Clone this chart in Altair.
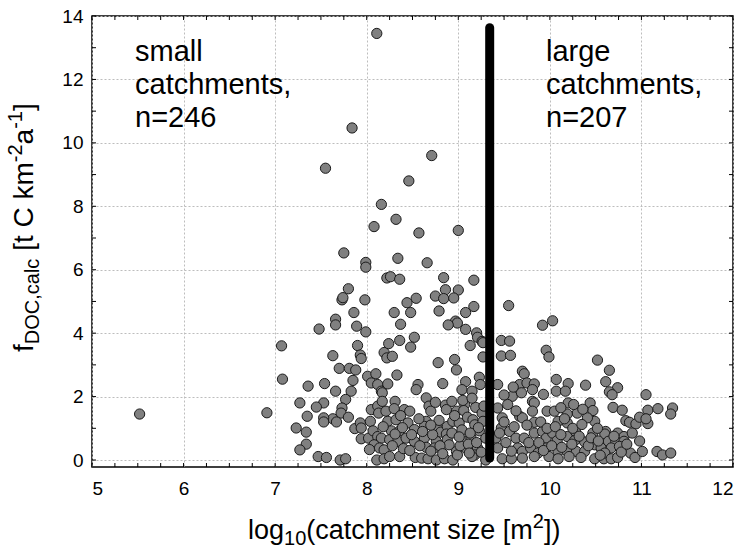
import altair as alt
import pandas as pd
import numpy as np

# ---------------- data ----------------
upper_x = [8.11, 7.84, 8.71, 7.55, 8.46, 8.16, 8.32, 8.08, 9.00, 8.57, 7.75, 8.34, 8.66, 7.99, 7.99,
           8.22, 8.26, 8.36, 8.84, 9.17, 7.80, 8.86, 9.00, 8.75, 8.84, 8.95, 8.54, 7.73, 7.74, 7.98,
           8.44, 9.17, 9.55, 7.86, 8.30, 8.48, 8.79, 9.08, 10.03, 9.92, 8.97, 8.99, 8.89, 7.66, 7.66,
           7.48, 7.89, 7.99, 8.37, 9.08, 9.20, 9.21, 8.52, 8.36, 9.47, 9.56, 9.26, 5.52, 6.91]
upper_y = [13.45, 10.47, 9.60, 9.20, 8.80, 8.06, 7.59, 7.36, 7.24, 7.16, 6.53, 6.36, 6.22, 6.23, 6.08,
           5.74, 5.78, 5.70, 5.75, 5.67, 5.40, 5.37, 5.36, 5.17, 5.09, 5.11, 5.10, 5.05, 5.12, 5.05,
           4.96, 4.84, 4.87, 4.65, 4.65, 4.65, 4.70, 4.65, 4.39, 4.25, 4.38, 4.32, 4.26, 4.44, 4.26,
           4.13, 4.22, 4.04, 4.28, 4.12, 4.01, 3.87, 3.87, 3.77, 3.77, 3.75, 3.74, 1.45, 1.49]

left_x = [7.07, 7.63, 7.90, 7.93, 7.94, 8.19, 8.22, 8.28, 8.24, 7.70, 7.81, 7.88, 7.08, 7.36, 7.54,
          7.66, 7.85, 7.83, 8.01, 8.10, 8.05, 8.12, 8.16, 8.17, 8.23, 7.77, 7.27, 7.53, 7.45, 7.35,
          7.73, 7.72, 7.80, 7.63, 7.67, 7.53, 7.53, 7.87, 7.93, 7.94, 8.04, 7.23, 7.34, 7.34, 7.27,
          7.47, 7.56, 7.71, 7.77, 7.94, 8.02, 8.07, 8.12, 8.16, 8.08, 8.14, 8.19, 8.11, 8.19, 8.05,
          8.12, 8.13, 8.17, 8.21]
left_y = [3.60, 3.29, 3.61, 3.31, 3.20, 3.39, 3.22, 3.27, 3.67, 2.89, 2.89, 2.84, 2.55, 2.33, 2.41,
          2.17, 2.51, 2.17, 2.64, 2.72, 2.43, 2.38, 2.17, 2.12, 2.40, 1.91, 1.80, 1.80, 1.67, 1.38,
          1.64, 1.48, 1.35, 1.30, 1.20, 1.33, 1.20, 0.99, 1.17, 1.01, 1.22, 1.01, 0.88, 0.50, 0.32,
          0.11, 0.08, 0.00, 0.04, 0.67, 0.69, 0.92, 0.74, 0.69, 0.48, 0.38, 0.32, 0.00, 0.04, 1.59,
          1.70, 1.48, 1.85, 1.54]

mid_x = [8.48, 9.13, 9.27, 8.78, 8.96, 8.98, 9.27, 8.33, 8.56, 8.54, 8.83, 9.08, 9.23, 9.24, 9.04,
         9.15, 8.31, 8.41, 8.47, 8.65, 8.68, 8.70, 8.86, 8.87, 8.98, 9.07, 9.06, 9.19, 9.26, 8.23,
         8.32, 8.45, 8.52, 8.27, 8.36, 8.65, 8.63, 8.77, 8.81, 8.88, 8.87, 8.94, 9.01, 9.10, 9.16,
         9.18, 9.23, 9.27, 8.25, 8.34, 8.43, 8.52, 8.63, 8.65, 8.76, 8.74, 8.88, 8.90, 8.98, 9.07,
         9.08, 9.14, 9.21, 9.18, 8.25, 8.36, 8.53, 8.60, 8.67, 8.76, 8.85, 8.94, 8.99, 9.15, 9.30,
         9.28, 9.30, 9.05, 9.15, 8.93, 8.75]
mid_y = [3.56, 3.61, 3.70, 3.07, 3.17, 2.84, 3.25, 2.68, 2.38, 2.22, 2.41, 2.47, 2.61, 2.38, 2.22,
         2.17, 1.85, 1.59, 1.54, 1.96, 1.70, 1.54, 1.73, 1.59, 1.54, 1.75, 1.56, 1.66, 1.48, 1.22,
         1.27, 1.17, 0.96, 0.92, 0.92, 1.22, 1.06, 1.03, 0.88, 1.06, 0.82, 1.22, 1.17, 1.35, 1.27,
         1.11, 0.92, 1.22, 0.64, 0.59, 0.69, 0.59, 0.69, 0.40, 0.59, 0.38, 0.64, 0.48, 0.27, 0.59,
         0.38, 0.69, 0.38, 0.16, 0.11, 0.11, 0.08, 0.06, 0.04, 0.00, 0.04, 0.00, 0.16, 0.11, 0.00,
         1.70, 0.69, 1.88, 1.95, 1.85, 1.82]

right_x = [9.47, 9.57, 9.96, 9.99, 10.52, 10.65, 9.70, 9.72, 9.43, 9.67, 9.75, 9.83, 9.81, 9.93, 10.07,
           10.20, 10.39, 10.07, 10.17, 9.59, 9.69, 9.54, 9.81, 9.83, 10.20, 10.44, 10.47, 10.49, 9.43, 9.48,
           9.67, 9.70, 9.81, 9.83, 9.97, 10.05, 10.09, 10.19, 10.30, 10.19, 10.41, 9.47, 9.56, 9.63, 9.72,
           9.83, 9.92, 9.96, 10.03, 10.08, 10.19, 10.28, 10.27, 10.38, 10.47, 10.56, 9.41, 9.43, 9.65, 9.70,
           9.79, 9.87, 9.96, 9.99, 10.09, 10.19, 10.29, 10.38, 10.49, 10.56, 9.48, 9.58, 9.70, 9.83, 10.09,
           10.21, 10.34, 10.49, 10.59]
right_y = [3.28, 3.30, 3.46, 3.25, 3.15, 2.83, 2.80, 2.72, 2.38, 2.38, 2.43, 2.40, 2.22, 2.07, 2.54,
           2.41, 2.36, 2.17, 2.17, 2.01, 2.12, 1.75, 1.85, 1.80, 1.80, 1.80, 1.56, 1.22, 1.64, 1.33,
           1.38, 1.33, 1.54, 1.19, 1.54, 1.54, 1.22, 1.17, 1.48, 1.45, 1.33, 1.01, 0.90, 0.69, 0.69,
           0.85, 0.90, 0.69, 0.85, 0.61, 0.74, 0.90, 0.61, 0.57, 0.85, 0.38, 0.69, 0.38, 0.38, 0.27,
           0.38, 0.22, 0.38, 0.11, 0.27, 0.27, 0.27, 0.27, 0.48, 0.38, 0.04, 0.04, 0.06, 0.11, 0.04,
           0.11, 0.08, 0.04, 0.04]

far_x = [10.61, 10.74, 10.65, 10.68, 11.05, 10.69, 10.79, 11.07, 11.18, 11.34, 11.32, 10.83, 10.87, 10.94,
         10.98, 11.07, 10.61, 10.60, 10.74, 10.81, 10.64, 10.72, 10.81, 10.67, 10.76, 10.60, 10.67, 10.74,
         10.88, 10.93, 11.01, 11.17, 11.23, 11.32]
far_y = [2.47, 2.28, 2.15, 2.06, 2.06, 1.66, 1.57, 1.57, 1.62, 1.64, 1.45, 1.24, 1.19, 1.14,
         1.35, 1.15, 0.90, 0.82, 0.85, 0.74, 0.59, 0.59, 0.59, 0.38, 0.43, 0.22, 0.04, 0.08,
         0.22, 0.08, 0.27, 0.27, 0.16, 0.22]

dense_x = [8.03, 8.28, 8.31, 8.39, 8.40, 8.18, 8.30, 8.37,
           8.47, 8.49, 8.57, 8.58, 8.61, 8.70, 8.72, 8.79, 8.80, 8.70,
           8.83, 8.93, 8.96, 9.02, 9.04, 9.11, 9.13, 9.20, 9.22, 9.25, 9.12, 9.01,
           9.45, 9.50, 9.52, 9.58, 9.61, 9.63, 9.75, 9.77, 9.88, 9.90, 9.93, 9.97, 9.60, 9.50,
           10.02, 10.06, 10.12, 10.13, 10.16, 10.24, 10.25, 10.32, 10.35, 10.42, 10.45, 10.52, 10.53,
           10.55, 10.26, 10.36, 10.12,
           10.70, 10.78, 10.84, 10.90, 10.98, 11.05]
dense_y = [0.33, 0.45, 0.82, 1.02, 0.36, 1.05, 1.62, 1.40,
           0.30, 0.80, 1.30, 0.45, 0.90, 0.28, 0.80, 1.25, 0.45, 1.10,
           0.20, 0.85, 1.40, 0.45, 0.95, 0.50, 0.85, 0.55, 1.02, 0.25, 0.22, 0.73,
           0.85, 1.20, 0.55, 0.28, 1.05, 1.55, 1.10, 0.55, 0.55, 1.20, 0.30, 1.00, 2.30, 2.05,
           0.45, 1.05, 0.80, 0.40, 1.30, 0.50, 1.00, 0.75, 1.12, 0.45, 0.70, 1.00, 0.60,
           0.15, 1.75, 1.60, 1.65,
           0.75, 0.25, 0.50, 0.85, 0.60, 1.30]

x_ticks = [5, 6, 7, 8, 9, 10, 11, 12]
y_ticks = [0, 2, 4, 6, 8, 10, 12, 14]
divider_x = 9.343
divider_y = [0.06, 13.63]

points = pd.DataFrame({
    "logA": upper_x + left_x + mid_x + right_x + far_x + dense_x,
    "f": upper_y + left_y + mid_y + right_y + far_y + dense_y,
})

# ---------------- layout ----------------
W, H = 641, 451
FONT = "Liberation Sans"

xs = alt.Scale(domain=[5, 12], nice=False, zero=False)
ys = alt.Scale(domain=[-0.22, 14], nice=False, zero=False)

base_axis_x = alt.Axis(values=x_ticks, format="d", ticks=False, domain=False, labelFontSize=19,
                       labelFont=FONT, labelColor="black", labelPadding=12, title=None,
                       grid=True, gridColor="#bdbdbd", gridDash=[2, 2], gridWidth=1)
base_axis_y = alt.Axis(values=y_ticks, format="d", ticks=False, domain=False, labelFontSize=19,
                       labelFont=FONT, labelColor="black", labelPadding=9, title=None,
                       grid=True, gridColor="#bdbdbd", gridDash=[2, 2], gridWidth=1)

pts = alt.Chart(points).mark_point(
    shape="circle", filled=True, size=105, fill="#808080", stroke="#1a1a1a",
    strokeWidth=1, opacity=1
).encode(
    x=alt.X("logA:Q", scale=xs, axis=base_axis_x),
    y=alt.Y("f:Q", scale=ys, axis=base_axis_y),
)

line_df = pd.DataFrame({"x": [divider_x, divider_x], "y": divider_y})
divider = alt.Chart(line_df).mark_line(color="black", strokeWidth=9, strokeCap="round").encode(
    x=alt.X("x:Q", scale=xs), y=alt.Y("y:Q", scale=ys)
)

# inward minor ticks on the frame
xt = pd.DataFrame({"v": list(np.arange(5.0, 12.001, 0.25))})
yt = pd.DataFrame({"v": list(np.arange(0.0, 14.001, 1.0))})
tk = dict(color="black", strokeWidth=1)
tick_b = alt.Chart(xt).mark_rule(**tk).encode(x=alt.X("v:Q", scale=xs), y=alt.value(H), y2=alt.value(H - 4))
tick_t = alt.Chart(xt).mark_rule(**tk).encode(x=alt.X("v:Q", scale=xs), y=alt.value(0), y2=alt.value(4))
tick_l = alt.Chart(yt).mark_rule(**tk).encode(y=alt.Y("v:Q", scale=ys), x=alt.value(0), x2=alt.value(4))
tick_r = alt.Chart(yt).mark_rule(**tk).encode(y=alt.Y("v:Q", scale=ys), x=alt.value(W), x2=alt.value(W - 4))


def txt(s, px, py, size, angle=0):
    return alt.Chart(pd.DataFrame({"t": [s]})).mark_text(
        font=FONT, fontSize=size, align="left", baseline="alphabetic", color="black",
        angle=angle
    ).encode(x=alt.value(px), y=alt.value(py), text="t:N")


layers = [pts, tick_b, tick_t, tick_l, tick_r, divider]

# annotations
for i, s in enumerate(["small", "catchments,", "n=246"]):
    layers.append(txt(s, 43, 45 + 33 * i, 29))
for i, s in enumerate(["large", "catchments,", "n=207"]):
    layers.append(txt(s, 454, 45 + 33 * i, 29))

# x-axis title: log10(catchment size [m2])
X0, XB = 156, 523
M, S = 27, 20
w_log = 1.334 * M
w_10 = 1.112 * S
w_mid = 8.391 * M
w_2 = 0.556 * S
layers += [
    txt("log", X0, XB, M),
    txt("10", X0 + w_log, XB + 6, S),
    txt("(catchment size [m", X0 + w_log + w_10, XB, M),
    txt("2", X0 + w_log + w_10 + w_mid, XB - 11, S),
    txt("])", X0 + w_log + w_10 + w_mid + w_2, XB, M),
]

# y-axis title: f_DOC,calc [t C km^-2 a^-1]
YM, YSUB = 28, 20
YX, YS = -59, 336
o1 = 0.278 * YM                 # after "f"
o2 = o1 + 4.278 * YSUB          # after "DOC,calc"
o3 = o2 + 0.278 * YM            # space
o4 = o3 + 3.167 * YM            # after "[t C km"
o5 = o4 + 0.889 * YSUB          # after "-2"
o6 = o5 + 0.556 * YM            # after "a"
o7 = o6 + 0.889 * YSUB          # after "-1"
layers += [
    txt("f", YX, YS, YM, 270),
    txt("DOC,calc", YX + 6, YS - o1, YSUB, 270),
    txt("[t C km", YX, YS - o3, YM, 270),
    txt("-2", YX - 11, YS - o4, YSUB, 270),
    txt("a", YX, YS - o5, YM, 270),
    txt("-1", YX - 11, YS - o6, YSUB, 270),
    txt("]", YX, YS - o7, YM, 270),
]

chart = alt.layer(*layers).properties(
    width=W, height=H,
    autosize=alt.AutoSizeParams(type="none"),
    padding={"left": 92, "top": 16, "right": 745 - 92 - W, "bottom": 551 - 16 - H},
    background="white",
).configure_view(stroke="black", strokeWidth=1.5)

chart.save("out.html", embed_options={"renderer": "svg", "actions": False})
